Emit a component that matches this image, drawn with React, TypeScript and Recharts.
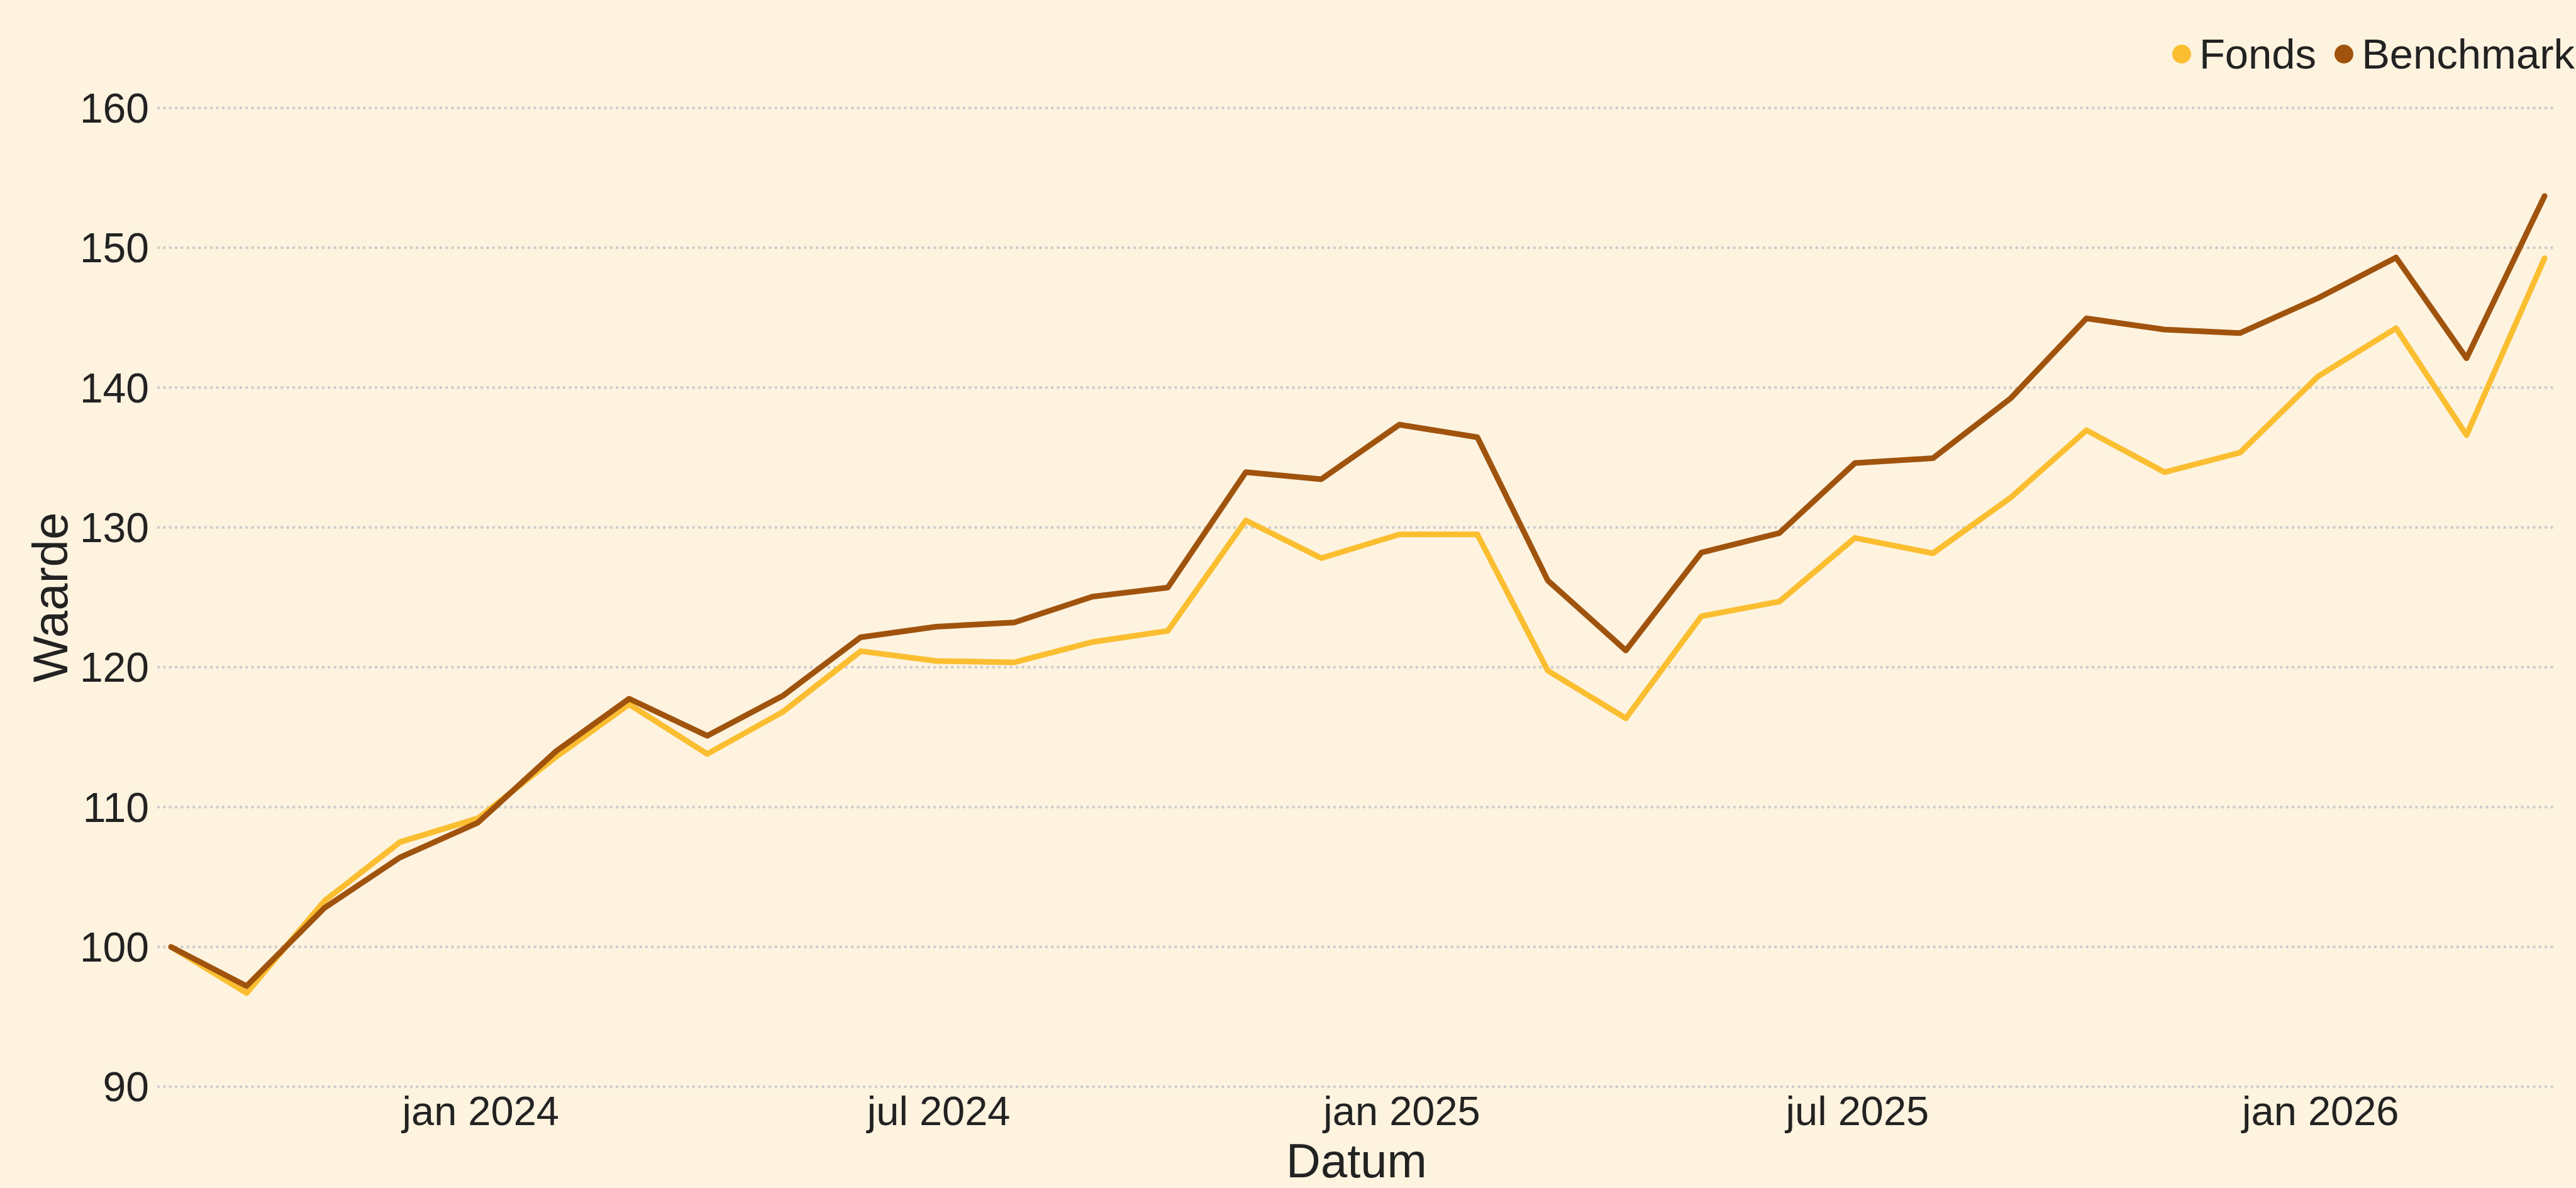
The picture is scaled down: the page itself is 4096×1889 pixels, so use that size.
import React from "react";
import { LineChart, Line, XAxis, YAxis, CartesianGrid, Legend } from "recharts";

// month-end observations, indexed to 100
const dates = [
  "2023-08-31", "2023-09-30", "2023-10-31", "2023-11-30", "2023-12-31",
  "2024-01-31", "2024-02-29", "2024-03-31", "2024-04-30", "2024-05-31",
  "2024-06-30", "2024-07-31", "2024-08-31", "2024-09-30", "2024-10-31",
  "2024-11-30", "2024-12-31", "2025-01-31", "2025-02-28", "2025-03-31",
  "2025-04-30", "2025-05-31", "2025-06-30", "2025-07-31", "2025-08-31",
  "2025-09-30", "2025-10-31", "2025-11-30", "2025-12-31", "2026-01-31",
  "2026-02-28", "2026-03-31",
];

const fonds = [
  100.0, 96.7, 103.3, 107.5, 109.2, 113.6, 117.35, 113.8, 116.8, 121.15,
  120.45, 120.35, 121.8, 122.6, 130.5, 127.8, 129.5, 129.5, 119.75, 116.35,
  123.65, 124.7, 129.25, 128.15, 132.15, 136.95, 133.95, 135.35, 140.8, 144.25,
  136.6, 149.25,
];

const benchmark = [
  100.0, 97.2, 102.8, 106.4, 108.9, 114.0, 117.75, 115.1, 117.95, 122.15,
  122.9, 123.2, 125.05, 125.7, 133.95, 133.45, 137.35, 136.45, 126.2, 121.2,
  128.2, 129.6, 134.6, 134.95, 139.25, 144.95, 144.15, 143.9, 146.4, 149.3,
  142.1, 153.7,
];

const seriesNames = ["Fonds", "Benchmark"];
const tickDates = ["2024-01-01", "2024-07-01", "2025-01-01", "2025-07-01", "2026-01-01"];
const tickLabels = ["jan 2024", "jul 2024", "jan 2025", "jul 2025", "jan 2026"];
const yTicks = [90, 100, 110, 120, 130, 140, 150, 160];

const FONT = "'Liberation Sans', Arial, Helvetica, sans-serif";
const TEXT = "#222222";
const BG = "#FDF3DF";
const COLOR_FONDS = "#FBBE30";
const COLOR_BENCH = "#A0530D";

const DAY = 86400000;
const toTs = (d: string) => Date.parse(d + "T00:00:00Z");

const data = dates.map((d, i) => ({
  t: toTs(d),
  Fonds: fonds[i],
  Benchmark: benchmark[i],
}));
const tickTs = tickDates.map(toTs);
const xMin = data[0].t - 5 * DAY;
const xMax = data[data.length - 1].t + 4 * DAY;

const DottedLine = (props: any) => (
  <line
    key={props.key}
    x1={props.x1}
    y1={props.y1}
    x2={props.x2}
    y2={props.y2}
    stroke="#CFCDCB"
    strokeWidth={4.7}
    strokeDasharray="0 9.35"
    strokeLinecap="round"
  />
);

const YTitle = (props: any) => {
  const vb = props.viewBox || {};
  const x = 107;
  const y = vb.y + vb.height / 2;
  return (
    <text
      x={x}
      y={y}
      transform={`rotate(-90 ${x} ${y})`}
      textAnchor="middle"
      fontSize={78}
      fontFamily={FONT}
      fill={TEXT}
    >
      Waarde
    </text>
  );
};

const LegendContent = (props: any) => {
  const items = [...(props.payload || [])].sort(
    (a: any, b: any) => seriesNames.indexOf(a.value) - seriesNames.indexOf(b.value)
  );
  return (
    <div style={{ display: "flex", alignItems: "center", fontFamily: FONT, fontSize: 67, lineHeight: 1, color: TEXT }}>
      {items.map((it: any, i: number) => (
        <div key={it.value} style={{ display: "flex", alignItems: "center", marginLeft: i === 0 ? 0 : 29 }}>
          <span
            style={{
              display: "inline-block",
              width: 30,
              height: 30,
              borderRadius: "50%",
              background: it.color,
              marginRight: 13,
            }}
          />
          <span>{it.value}</span>
        </div>
      ))}
    </div>
  );
};

export default function App() {
  return (
    <div style={{ position: "absolute", left: 0, top: 0, width: 4096, height: 1889, background: BG }}>
      <LineChart
        width={4096}
        height={1889}
        data={data}
        margin={{ top: 171.6, right: 34, bottom: 0, left: 0 }}
      >
        <CartesianGrid vertical={false} horizontal={DottedLine} />
        <XAxis
          dataKey="t"
          type="number"
          scale="time"
          domain={[xMin, xMax]}
          allowDataOverflow
          ticks={tickTs}
          interval={0}
          tickFormatter={(v: number) => tickLabels[tickTs.indexOf(v)] ?? ""}
          axisLine={false}
          tickLine={false}
          tickSize={0}
          tickMargin={15}
          height={161}
          tick={{ fontSize: 65, fill: TEXT, fontFamily: FONT }}
          label={{ value: "Datum", position: "insideBottom", offset: 17, fontSize: 76, fill: TEXT, fontFamily: FONT }}
        />
        <YAxis
          type="number"
          domain={[90, 160]}
          ticks={yTicks}
          interval={0}
          axisLine={false}
          tickLine={false}
          tickSize={0}
          tickMargin={15}
          width={252}
          tick={{ fontSize: 66, fill: TEXT, fontFamily: FONT }}
          label={<YTitle />}
        />
        <Legend
          layout="horizontal"
          align="center"
          verticalAlign="middle"
          content={<LegendContent />}
          wrapperStyle={{ top: 52, right: 2, left: "auto", width: "auto" }}
        />
        <Line
          type="linear"
          dataKey="Fonds"
          name="Fonds"
          stroke={COLOR_FONDS}
          strokeWidth={9}
          strokeLinejoin="round"
          strokeLinecap="round"
          dot={false}
          activeDot={false}
          isAnimationActive={false}
        />
        <Line
          type="linear"
          dataKey="Benchmark"
          name="Benchmark"
          stroke={COLOR_BENCH}
          strokeWidth={9}
          strokeLinejoin="round"
          strokeLinecap="round"
          dot={false}
          activeDot={false}
          isAnimationActive={false}
        />
      </LineChart>
    </div>
  );
}
